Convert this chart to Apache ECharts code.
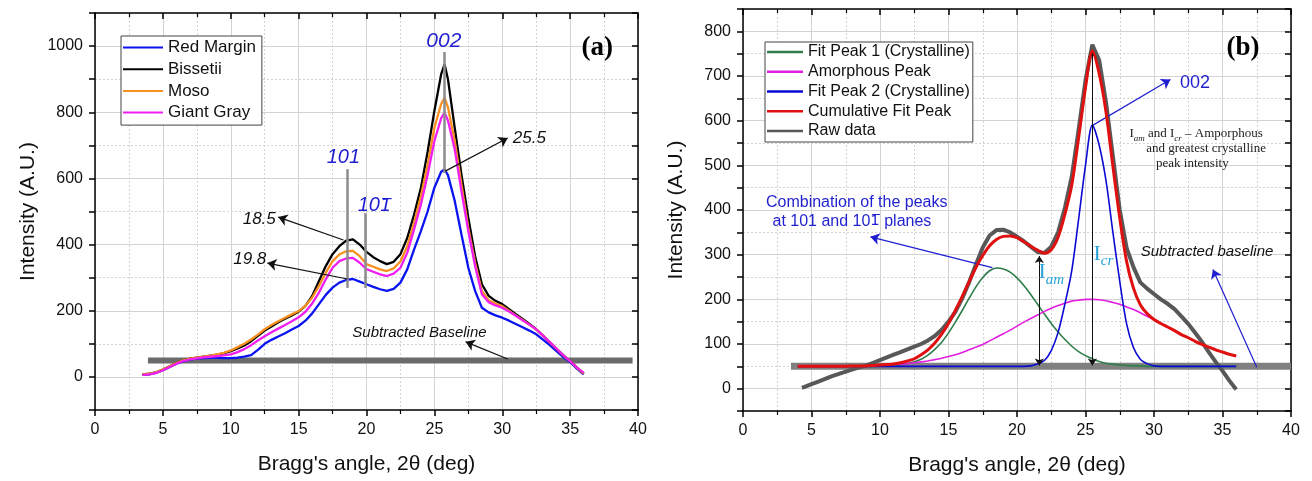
<!DOCTYPE html>
<html>
<head>
<meta charset="utf-8">
<title>XRD patterns</title>
<script src="https://cdn.jsdelivr.net/npm/echarts@6.0.0/dist/echarts.min.js"></script>
<style>
html,body{margin:0;padding:0;background:#ffffff;}
#chart{width:1312px;height:481px;}
</style>
</head>
<body>
<div id="chart"></div>
<script>
// ---------------- Panel (a) data ----------------
const xA = [3.5,4,4.5,5,5.5,6,6.5,7,7.5,8,8.5,9,9.5,10,10.5,11,11.5,12,12.5,13,13.5,14,14.5,15,15.5,16,16.5,17,17.5,18,18.5,19,19.5,20,20.5,21,21.5,22,22.5,23,23.5,24,24.5,25,25.5,25.75,26,26.5,27,27.5,28,28.5,29,29.5,30,30.5,31,31.5,32,32.5,33,33.5,34,34.5,35,35.5,36];
const redMargin = [6,8,12,20,30,40,47,52,55,57, 58,58,57,57,58,61,66,82,100,112, 122,132,143,154,170,192,220,248,270,285, 293,296,288,280,272,265,260,266,285,325, 385,440,500,572,620,627,610,532,430,330, 260,209,195,186,179,170,160,150,140,129, 113,96,78,60,45,25,8];
const bissetii = [8,10,14,22,32,42,50,55,58,61, 64,67,72,78,86,95,108,124,140,152, 165,176,186,197,215,245,290,335,371,395, 412,416,400,378,362,350,341,348,371,420, 490,570,680,804,915,945,900,753,610,481, 365,280,245,230,220,205,190,175,160,144, 125,105,85,65,48,28,10];
const moso = [8,10,14,22,32,42,50,55,58,61, 64,68,73,80,90,100,113,128,144,157, 168,179,189,199,215,240,275,315,350,370, 380,381,365,341,333,325,320,328,349,395, 465,545,640,753,825,844,815,713,580,451, 345,260,232,222,214,200,186,172,158,143, 125,105,85,65,48,28,10];
const giantGray = [6,8,12,20,30,40,48,53,56,59, 61,63,65,68,75,84,96,110,123,135, 146,157,168,180,197,222,255,295,330,350, 358,360,345,326,318,310,305,312,330,375, 445,520,610,713,782,798,775,688,560,441, 335,250,226,216,209,198,185,171,158,144, 125,105,85,65,48,28,12];
const baselineAX = [3.9, 39.6];
const baselineAY = [50, 50];

// ---------------- Panel (b) data ----------------
const xB = [4,4.5,5,5.5,6,6.5,7,7.5,8,8.5,9,9.5,10,10.5,11,11.5,12,12.5,13,13.5,14,14.5,15,15.5,16,16.5,17,17.5,18,18.5,19,19.5,20,20.5,21,21.5,22,22.5,23,23.5,24,24.5,25,25.5,26,26.5,27,27.5,28,28.5,29,29.5,30,30.5,31,31.5,32,32.5,33,33.5,34,34.5,35,35.5,36];
const fitPeak1 = [50,50,50,50,50,50,50,50,50,50,50,50, 51,51,52,53,56,60,66,75,88,104, 125,149,175,202,228,249,264,270,268,261, 248,231,211,189,167,146,127,110,95,83, 74,67,61,57,55,53,52,51,51,50, 50,50,50,50,50,50,50,50,50,50,50,50,50];
const amorphous = [50,50,50,50,50,50,50,50,51,51,51,52, 52,53,54,55,56,58,60,62,65,68, 72,76,81,87,93,99,107,115,123,131, 140,149,157,165,173,180,186,191,196,198, 200,200,199,197,193,189,183,177,170,162, 154,146,138,130,121,114,106,99,93,87,82,77,73];
const fitPeak2 = [50,50,50,50,50,50,50,50,50,50,50,50,50,50,50,50,50,50,50,50,50,50,50,50,50,50,50,50,50,50,50,50,50,50, 51,55,63,85,126,190,265,380,500,590,545,465,350,240,145,92,66,56,51, 50,50,50,50,50,50,50,50,50,50,50,50];
const cumulative = [50,50,50,50,50,50,50,50,51,51,51,52, 53,54,55,58,62,67,76,87,102,122, 146,175,206,239,271,298,320,334,341,342, 338,329,319,310,303,311,339,391,456,562, 674,756,705,619,498,382,285,225,188,168, 155,146,138,130,121,114,106,99,93,87,82,77,73];
const xRaw = [4.3,4.5,5,5.5,6,6.5,7,7.5,8,8.5,9,9.5,10,10.5,11,11.5,12,12.5,13,13.5,14,14.5,15,15.5,16,16.5,17,17.5,18,18.5,19,19.5,20,20.5,21,21.5,22,22.5,23,23.5,24,24.5,25,25.5,26,26.5,27,27.5,28,28.5,29,29.5,30,30.5,31,31.5,32,32.5,33,33.5,34,34.5,35,35.5,36];
const rawData = [2,4,10,16,22,28,33,38,43,48,52,58, 64,70,76,82,88,94,100,108,118,132, 150,172,202,238,278,316,343,355,356,350, 340,330,318,306,304,318,350,405,475,580, 690,770,735,640,520,400,315,272,238,224, 212,200,190,178,162,145,125,105,82,60,40,18,-2];
const baselineBX = [3.5, 40];
const baselineBY = [50, 50];

// ---------------- tick labels ----------------
const xTickLabels = [0,5,10,15,20,25,30,35,40];
const yTickLabelsA = [0,200,400,600,800,1000];
const yTickLabelsB = [0,100,200,300,400,500,600,700,800];

// ---------------- helpers ----------------
const FONT = "'Liberation Sans', Arial, Helvetica, sans-serif";
const SERIF = "'Liberation Serif', 'Times New Roman', serif";
const DEJAVU = "'DejaVu Sans', sans-serif";
const GRID_C = '#d3d3d3';
const CLEAR = 'rgba(0,0,0,0)';
const BLUE_T = '#1f1fd0';
const pairs = (xs, ys) => xs.map((x, i) => [x, ys[i]]);

function xAxisPair(gi) {
  const common = {type: 'value', gridIndex: gi, min: 0, max: 40, interval: 5};
  return [
    Object.assign({}, common, {
      position: 'bottom',
      name: "Bragg's angle, 2\u03b8 (deg)", nameLocation: 'middle', nameGap: 44,
      nameTextStyle: {fontFamily: FONT, fontSize: 21, color: '#111'},
      axisLine: {onZero: false, lineStyle: {color: '#000', width: 1.5}},
      axisTick: {inside: false, length: 6, lineStyle: {color: '#000', width: 1.5}},
      minorTick: {show: true, splitNumber: 2, length: 4, lineStyle: {color: '#000', width: 1.2}},
      axisLabel: {fontFamily: FONT, fontSize: 16, color: '#111', margin: 12,
        formatter: v => xTickLabels.includes(v) ? String(v) : ''},
      splitLine: {show: true, lineStyle: {color: GRID_C, width: 1}},
      minorSplitLine: {show: true, lineStyle: {color: GRID_C, width: 1, type: [2, 2]}}
    }),
    Object.assign({}, common, {
      position: 'top',
      axisLine: {onZero: false, lineStyle: {color: '#000', width: 1.5}},
      axisTick: {inside: true, length: 6, lineStyle: {color: '#000', width: 1.5}},
      minorTick: {show: true, splitNumber: 2, length: 4, lineStyle: {color: '#000', width: 1.2}},
      axisLabel: {show: false}, splitLine: {show: false}
    })
  ];
}

function yAxisPair(gi, min, max, step, labels) {
  const common = {type: 'value', gridIndex: gi, min: min, max: max, interval: step};
  return [
    Object.assign({}, common, {
      position: 'left',
      name: 'Intensity (A.U.)', nameLocation: 'middle', nameGap: 56,
      nameTextStyle: {fontFamily: FONT, fontSize: 21, color: '#111'},
      axisLine: {onZero: false, lineStyle: {color: '#000', width: 1.5}},
      axisTick: {inside: false, length: 6, lineStyle: {color: '#000', width: 1.5}},
      axisLabel: {fontFamily: FONT, fontSize: 16, color: '#111', margin: 12,
        formatter: v => labels.includes(v) ? String(v) : ''},
      splitLine: {show: true, lineStyle: {color: [CLEAR, GRID_C], width: 1}}
    }),
    Object.assign({}, common, {
      position: 'right',
      axisLine: {onZero: false, lineStyle: {color: '#000', width: 1.5}},
      axisTick: {inside: true, length: 6, lineStyle: {color: '#000', width: 1.5}},
      axisLabel: {show: false},
      splitLine: {show: true, lineStyle: {color: [GRID_C, CLEAR], width: 1, type: [2, 2]}}
    })
  ];
}

function lineS(name, xs, ys, color, width, xi, yi, z, smooth) {
  return {
    name: name, type: 'line', xAxisIndex: xi, yAxisIndex: yi,
    data: pairs(xs, ys), showSymbol: false, symbol: 'none',
    smooth: smooth || false,
    lineStyle: {color: color, width: width}, itemStyle: {color: color},
    z: z || 3, silent: true, animation: false
  };
}

function txt(x, y, formatter, style) {
  return {
    coord: [x, y], symbol: 'rect', symbolSize: 1, itemStyle: {color: CLEAR},
    label: Object.assign({show: true, position: 'inside', formatter: formatter,
      color: '#111', fontFamily: FONT}, style)
  };
}

function annS(xi, yi, extra) {
  return Object.assign({type: 'line', xAxisIndex: xi, yAxisIndex: yi, data: [],
    silent: true, animation: false, z: 8}, extra);
}

const subRich = (size, subSize, color) => ({
  i: {fontFamily: SERIF, fontSize: size, color: color, verticalAlign: 'bottom', padding: [0, 0, Math.round(size * 0.2), 0]},
  s: {fontFamily: SERIF, fontSize: subSize, fontStyle: 'italic', color: color, verticalAlign: 'bottom'},
  t: {fontFamily: SERIF, fontSize: size, color: color, verticalAlign: 'bottom', padding: [0, 0, Math.round(size * 0.2), 0]}
});

const barRich = (size, color, italic) => ({
  t: {fontFamily: FONT, fontSize: size, color: color, fontStyle: italic ? 'italic' : 'normal'},
  d: {fontFamily: DEJAVU, fontSize: size * 0.92, color: color, fontStyle: italic ? 'italic' : 'normal'}
});

const xAxes = xAxisPair(0).concat(xAxisPair(1));
const yAxes = yAxisPair(0, -100, 1100, 100, yTickLabelsA).concat(yAxisPair(1, -50, 850, 50, yTickLabelsB));

const option = {
  backgroundColor: '#ffffff',
  animation: false,
  grid: [
    {left: 95, top: 13, width: 543, height: 397, containLabel: false},
    {left: 743, top: 9, width: 548, height: 403, containLabel: false}
  ],
  xAxis: xAxes,
  yAxis: yAxes,
  legend: [
    {
      data: ['Red Margin', 'Bissetii', 'Moso', 'Giant Gray'],
      orient: 'vertical', left: 121, top: 36,
      icon: 'rect', itemWidth: 40, itemHeight: 2, itemGap: 4.7,
      padding: [3, 6, 4, 2],
      backgroundColor: '#ffffff', borderColor: '#444', borderWidth: 1,
      textStyle: {fontFamily: FONT, fontSize: 17, color: '#111', lineHeight: 17},
      selectedMode: false, z: 20
    },
    {
      data: ['Fit Peak 1 (Crystalline)', 'Amorphous Peak', 'Fit Peak 2 (Crystalline)', 'Cumulative Fit Peak', 'Raw data'],
      orient: 'vertical', left: 765, top: 42,
      icon: 'rect', itemWidth: 36, itemHeight: 2.5, itemGap: 3.75,
      padding: [2, 3, 3, 2],
      backgroundColor: '#ffffff', borderColor: '#444', borderWidth: 1,
      textStyle: {fontFamily: FONT, fontSize: 16, color: '#111', lineHeight: 16},
      selectedMode: false, z: 20
    }
  ],
  series: [
    // panel (a)
    lineS('baselineA', baselineAX, baselineAY, '#6b6b6b', 6, 0, 0, 2),
    lineS('Red Margin', xA, redMargin, '#0a14f0', 2.3, 0, 0, 3),
    lineS('Bissetii', xA, bissetii, '#000000', 2.3, 0, 0, 3),
    lineS('Moso', xA, moso, '#f7901e', 2.3, 0, 0, 3),
    lineS('Giant Gray', xA, giantGray, '#f01ef0', 2.3, 0, 0, 3),
    annS(0, 0, {
      markLine: {silent: true, animation: false, symbol: ['none', 'none'], label: {show: false},
        lineStyle: {color: '#8c8c8c', width: 2.5, type: 'solid'},
        data: [
          [{coord: [18.56, 628]}, {coord: [18.56, 269]}],
          [{coord: [19.9, 495]}, {coord: [19.9, 269]}],
          [{coord: [25.7, 982]}, {coord: [25.7, 616]}]
        ]}
    }),
    annS(0, 0, {
      markLine: {silent: true, animation: false, symbol: ['none', 'arrow'], symbolSize: 9, label: {show: false},
        lineStyle: {color: '#111', width: 1.2, type: 'solid'},
        data: [
          [{coord: [25.8, 622]}, {coord: [30.4, 722]}],
          [{coord: [18.3, 414]}, {coord: [13.5, 483]}],
          [{coord: [18.6, 296]}, {coord: [12.7, 344]}],
          [{coord: [30.4, 54]}, {coord: [27.3, 106]}]
        ]},
      markPoint: {silent: true, animation: false,
        data: [
          txt(25.7, 1015, '002', {color: BLUE_T, fontSize: 21, fontStyle: 'italic'}),
          txt(18.3, 662, '101', {color: BLUE_T, fontSize: 20, fontStyle: 'italic'}),
          txt(20.6, 517, '{t|10}{d|1\u0305}', {rich: barRich(20, BLUE_T, true)}),
          txt(32.0, 722, '25.5', {fontSize: 17, fontStyle: 'italic'}),
          txt(12.1, 477, '18.5', {fontSize: 17, fontStyle: 'italic'}),
          txt(11.4, 356, '19.8', {fontSize: 17, fontStyle: 'italic'}),
          txt(23.9, 133, 'Subtracted Baseline', {fontSize: 15, fontStyle: 'italic'}),
          txt(37.0, 994, '(a)', {fontFamily: SERIF, fontWeight: 'bold', fontSize: 27, color: '#000'})
        ]}
    }),
    // panel (b)
    lineS('baselineB', baselineBX, baselineBY, '#808080', 7, 2, 2, 2),
    lineS('Raw data', xRaw, rawData, '#585858', 4, 2, 2, 3),
    lineS('Fit Peak 1 (Crystalline)', xB, fitPeak1, '#2e7d4a', 1.6, 2, 2, 4, 0.3),
    lineS('Amorphous Peak', xB, amorphous, '#e21ee2', 1.6, 2, 2, 4, 0.3),
    lineS('Fit Peak 2 (Crystalline)', xB, fitPeak2, '#0a0ad2', 1.6, 2, 2, 4, 0.3),
    lineS('Cumulative Fit Peak', xB, cumulative, '#e01010', 3, 2, 2, 5, 0.3),
    annS(2, 2, {
      markLine: {silent: true, animation: false, symbol: ['arrow', 'arrow'], symbolSize: 7, label: {show: false},
        lineStyle: {color: '#111', width: 1, type: 'solid'},
        data: [
          [{coord: [21.63, 52]}, {coord: [21.63, 297]}],
          [{coord: [25.5, 52]}, {coord: [25.5, 757]}]
        ]}
    }),
    annS(2, 2, {
      markLine: {silent: true, animation: false, symbol: ['none', 'arrow'], symbolSize: 9, label: {show: false},
        lineStyle: {color: BLUE_T, width: 1.2, type: 'solid'},
        data: [
          [{coord: [25.55, 590]}, {coord: [31.2, 692]}],
          [{coord: [18.2, 271]}, {coord: [9.3, 340]}],
          [{coord: [37.5, 48]}, {coord: [34.3, 267]}]
        ]},
      markPoint: {silent: true, animation: false,
        data: [
          txt(33.0, 684, '002', {color: BLUE_T, fontSize: 18}),
          txt(8.3, 416, 'Combination of the peaks', {color: BLUE_T, fontSize: 16}),
          txt(7.95, 374, '{t|at 101 and 10}{d|1\u0305}{t| planes}', {rich: barRich(16, BLUE_T, false)}),
          txt(22.5, 256, '{i|I}{s|am}', {rich: subRich(22, 15, '#2ba3d9')}),
          txt(26.3, 297, '{i|I}{s|cr}', {rich: subRich(22, 15, '#2ba3d9')}),
          txt(33.87, 307, 'Subtracted baseline', {fontSize: 15, fontStyle: 'italic'}),
          txt(36.5, 762, '(b)', {fontFamily: SERIF, fontWeight: 'bold', fontSize: 27, color: '#000'}),
          txt(33.07, 568, '{t|I}{s|am}{t| and I}{s|cr}{t| \u2013 Amporphous}', {rich: subRich(13, 9, '#222')}),
          txt(33.8, 537, 'and greatest crystalline', {fontFamily: SERIF, fontSize: 13, color: '#222'}),
          txt(32.8, 505, 'peak intensity', {fontFamily: SERIF, fontSize: 13, color: '#222'})
        ]}
    })
  ]
};

const chart = echarts.init(document.getElementById('chart'), null, {renderer: 'canvas'});
chart.setOption(option);
</script>
</body>
</html>
